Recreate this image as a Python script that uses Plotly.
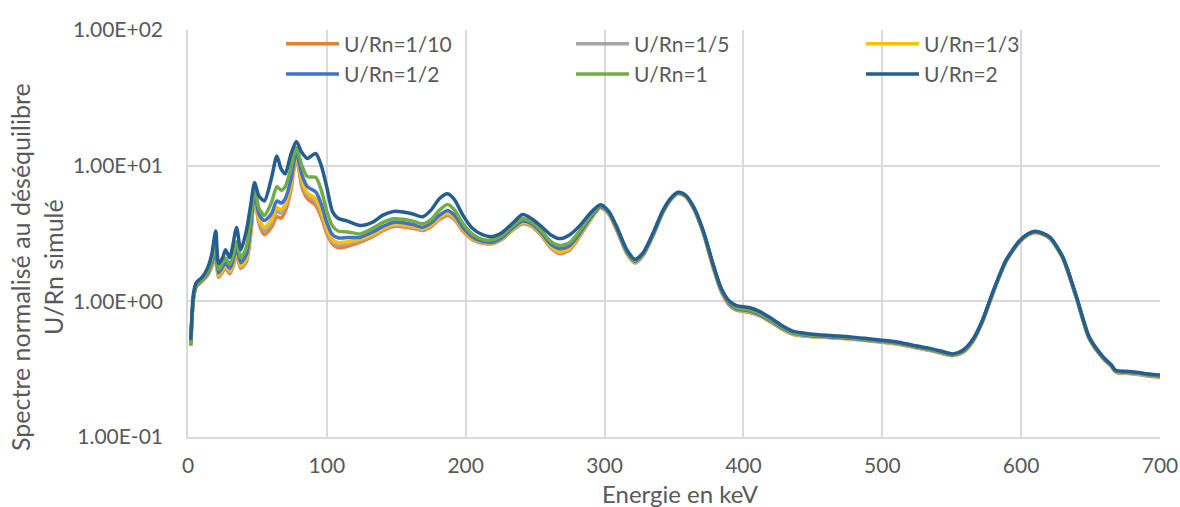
import plotly.graph_objects as go

# Energy grid (keV)
energy = [2, 4, 6, 10, 14, 17, 20, 22, 25, 27, 30, 32, 35, 38, 42, 45, 48, 51, 55, 60,
          64, 67, 70, 74, 78, 82, 86, 92, 96, 100, 104, 108, 115, 124, 133, 140, 148, 155, 162, 169,
          175, 181, 187, 192, 198, 205, 212, 219, 226, 233, 241, 247, 254, 261, 268, 275, 282, 290, 297, 303,
          309, 316, 322, 328, 335, 342, 348, 353, 358, 364, 371, 378, 384, 390, 395, 404, 412, 420, 428, 436,
          448, 462, 477, 490, 500, 512, 522, 534, 546, 551, 558, 565, 572, 580, 589, 599, 605, 610, 615, 621,
          630, 640, 649, 659, 665, 668, 675, 683, 690, 700]

s_1_10 = [0.48, 1.05, 1.28, 1.40, 1.55, 1.80, 2.05, 1.50, 1.65, 1.75, 1.60, 1.75, 2.2, 1.75, 1.95, 3.0, 6.0, 3.8, 3.1, 3.5,
          4.2, 4.1, 4.6, 6.5, 11.5, 7.0, 5.7, 5.1, 4.17, 3.16, 2.65, 2.48, 2.55, 2.73, 3.0, 3.3, 3.56, 3.55, 3.45, 3.33,
          3.55, 4.0, 4.3, 4.0, 3.3, 2.85, 2.68, 2.66, 2.85, 3.3, 3.73, 3.6, 3.1, 2.5, 2.24, 2.4, 3.0, 4.0, 4.9, 4.4,
          3.3, 2.25, 1.92, 2.2, 3.05, 4.5, 5.65, 6.2, 5.95, 4.85, 3.2, 1.8, 1.18, 0.93, 0.86, 0.83, 0.78, 0.70, 0.62, 0.57,
          0.55, 0.54, 0.528, 0.512, 0.50, 0.483, 0.46, 0.435, 0.405, 0.398, 0.42, 0.50, 0.70, 1.17, 1.95, 2.75, 3.08, 3.22, 3.13, 2.88,
          2.07, 1.04, 0.53, 0.378, 0.33, 0.30, 0.295, 0.29, 0.283, 0.275]

s_1_5 = [0.48, 1.06, 1.29, 1.41, 1.56, 1.82, 2.10, 1.52, 1.68, 1.78, 1.63, 1.78, 2.25, 1.78, 2.0, 3.1, 6.1, 3.95, 3.3, 3.75,
         4.6, 4.45, 4.95, 6.9, 11.8, 7.4, 6.0, 5.4, 4.4, 3.3, 2.75, 2.58, 2.65, 2.8, 3.06, 3.36, 3.62, 3.61, 3.5, 3.38,
         3.6, 4.07, 4.38, 4.07, 3.35, 2.88, 2.7, 2.68, 2.87, 3.33, 3.77, 3.63, 3.13, 2.53, 2.27, 2.43, 3.03, 4.04, 4.93, 4.43,
         3.33, 2.27, 1.93, 2.21, 3.07, 4.53, 5.68, 6.23, 5.98, 4.88, 3.22, 1.82, 1.19, 0.94, 0.87, 0.835, 0.785, 0.705, 0.625, 0.573,
         0.552, 0.542, 0.53, 0.514, 0.502, 0.485, 0.462, 0.437, 0.407, 0.40, 0.422, 0.503, 0.703, 1.175, 1.96, 2.76, 3.09, 3.23, 3.14, 2.89,
         2.08, 1.045, 0.533, 0.38, 0.332, 0.302, 0.297, 0.292, 0.285, 0.277]

s_1_3 = [0.49, 1.07, 1.30, 1.42, 1.58, 1.85, 2.15, 1.55, 1.72, 1.82, 1.67, 1.82, 2.32, 1.83, 2.06, 3.2, 6.2, 4.1, 3.5, 3.95,
         4.9, 4.75, 5.2, 7.2, 12.0, 7.8, 6.3, 5.7, 4.65, 3.45, 2.87, 2.7, 2.75, 2.86, 3.12, 3.42, 3.68, 3.67, 3.56, 3.43,
         3.66, 4.15, 4.48, 4.15, 3.4, 2.92, 2.73, 2.7, 2.9, 3.36, 3.82, 3.67, 3.17, 2.57, 2.31, 2.47, 3.07, 4.08, 4.96, 4.46,
         3.36, 2.3, 1.95, 2.23, 3.1, 4.56, 5.71, 6.26, 6.0, 4.9, 3.25, 1.84, 1.2, 0.95, 0.875, 0.84, 0.79, 0.71, 0.63, 0.576,
         0.555, 0.544, 0.532, 0.516, 0.504, 0.487, 0.464, 0.439, 0.409, 0.402, 0.424, 0.506, 0.706, 1.18, 1.97, 2.77, 3.1, 3.24, 3.15, 2.9,
         2.09, 1.05, 0.536, 0.382, 0.334, 0.304, 0.299, 0.294, 0.287, 0.279]

s_1_2 = [0.49, 1.08, 1.31, 1.43, 1.60, 1.90, 2.25, 1.62, 1.80, 1.92, 1.75, 1.92, 2.45, 1.93, 2.2, 3.4, 6.4, 4.4, 3.94, 4.4,
         5.5, 5.3, 5.7, 7.8, 12.5, 8.6, 7.0, 6.4, 5.2, 3.8, 3.1, 2.94, 2.95, 2.97, 3.25, 3.55, 3.83, 3.8, 3.68, 3.52,
         3.77, 4.3, 4.67, 4.3, 3.5, 2.98, 2.77, 2.73, 2.94, 3.42, 3.9, 3.75, 3.24, 2.65, 2.44, 2.58, 3.15, 4.15, 5.0, 4.5,
         3.4, 2.33, 1.97, 2.25, 3.13, 4.6, 5.74, 6.3, 6.03, 4.93, 3.28, 1.86, 1.21, 0.96, 0.88, 0.85, 0.795, 0.715, 0.635, 0.58,
         0.558, 0.547, 0.535, 0.518, 0.506, 0.489, 0.466, 0.441, 0.411, 0.403, 0.426, 0.509, 0.709, 1.185, 1.98, 2.78, 3.12, 3.26, 3.17, 2.92,
         2.1, 1.055, 0.539, 0.384, 0.336, 0.306, 0.301, 0.296, 0.289, 0.281]

s_1 = [0.47, 1.10, 1.33, 1.45, 1.65, 2.0, 2.5, 1.72, 1.92, 2.08, 1.88, 2.08, 2.75, 2.1, 2.5, 4.0, 6.9, 4.9, 4.3, 5.3,
       7.0, 6.6, 7.0, 9.5, 13.6, 10.0, 8.3, 8.2, 6.6, 4.6, 3.6, 3.3, 3.25, 3.14, 3.45, 3.8, 4.06, 4.02, 3.9, 3.73,
       4.0, 4.7, 5.17, 4.7, 3.75, 3.12, 2.86, 2.84, 3.05, 3.55, 4.06, 3.88, 3.35, 2.78, 2.58, 2.72, 3.3, 4.3, 5.08, 4.55,
       3.45, 2.37, 2.0, 2.27, 3.16, 4.63, 5.77, 6.33, 6.06, 4.96, 3.3, 1.88, 1.23, 0.98, 0.9, 0.865, 0.81, 0.725, 0.645, 0.587,
       0.565, 0.552, 0.54, 0.523, 0.51, 0.493, 0.469, 0.444, 0.414, 0.405, 0.43, 0.513, 0.713, 1.19, 1.99, 2.79, 3.13, 3.27, 3.18, 2.93,
       2.11, 1.06, 0.542, 0.386, 0.338, 0.308, 0.303, 0.298, 0.291, 0.283]

s_2 = [0.52, 1.15, 1.38, 1.50, 1.75, 2.2, 3.3, 1.9, 2.1, 2.4, 2.1, 2.5, 3.5, 2.4, 3.3, 5.0, 7.5, 6.0, 5.5, 8.0,
       11.8, 9.5, 8.7, 12.0, 15.1, 12.5, 11.3, 12.3, 10.0, 6.9, 4.6, 4.1, 3.9, 3.62, 3.83, 4.3, 4.6, 4.55, 4.4, 4.2,
       4.7, 5.7, 6.2, 5.6, 4.3, 3.44, 3.1, 3.0, 3.2, 3.7, 4.36, 4.1, 3.6, 3.1, 2.9, 3.1, 3.6, 4.5, 5.15, 4.6,
       3.5, 2.4, 2.04, 2.3, 3.2, 4.67, 5.8, 6.37, 6.1, 5.0, 3.33, 1.9, 1.25, 1.0, 0.93, 0.9, 0.84, 0.75, 0.66, 0.60,
       0.575, 0.56, 0.547, 0.53, 0.517, 0.50, 0.475, 0.45, 0.42, 0.41, 0.436, 0.52, 0.72, 1.2, 2.0, 2.81, 3.15, 3.29, 3.2, 2.95,
       2.12, 1.07, 0.547, 0.39, 0.34, 0.31, 0.305, 0.30, 0.293, 0.286]

series_names = ["U/Rn=1/10", "U/Rn=1/5", "U/Rn=1/3", "U/Rn=1/2", "U/Rn=1", "U/Rn=2"]
series_values = [s_1_10, s_1_5, s_1_3, s_1_2, s_1, s_2]
series_colors = ["#ED7D31", "#A5A5A5", "#FFC000", "#4472C4", "#70AD47", "#255E91"]

y_tickvals = [0.1, 1, 10, 100]
y_ticktext = ["1.00E-01", "1.00E+00", "1.00E+01", "1.00E+02"]
x_tickvals = [0, 100, 200, 300, 400, 500, 600, 700]

for v in series_values:
    assert len(v) == len(energy)

FONT = "Lato"
GREY = "#595959"

fig = go.Figure()
for name, vals, col in zip(series_names, series_values, series_colors):
    fig.add_trace(go.Scatter(x=energy, y=vals, mode="lines", name=name,
                             line=dict(color=col, width=3.5, shape="spline", smoothing=0.7)))

W, H = 1180, 507
ml, mr, mt, mb = 188, 20, 30, 70
pw = W - ml - mr
ph = H - mt - mb

fig.update_layout(
    width=W, height=H,
    margin=dict(l=ml, r=mr, t=mt, b=mb, autoexpand=False),
    paper_bgcolor="white", plot_bgcolor="white",
    font=dict(family=FONT, size=21, color=GREY),
    showlegend=True,
    legend=dict(orientation="h", x=(281 - ml) / pw, xanchor="left", y=1.016, yanchor="top",
                entrywidth=222, entrywidthmode="pixels", bgcolor="rgba(0,0,0,0)",
                font=dict(family=FONT, size=21, color=GREY), itemwidth=53,
                tracegroupgap=0, traceorder="normal"),
    xaxis=dict(range=[0, 700], tickvals=x_tickvals, showgrid=True, gridcolor="#D9D9D9", gridwidth=1.5,
               zeroline=False, showline=True, linecolor="#D9D9D9", linewidth=1.5,
               ticks="outside", ticklen=9, tickcolor="rgba(0,0,0,0)", automargin=False,
               tickfont=dict(family=FONT, size=21, color=GREY)),
    yaxis=dict(type="log", range=[-1, 2], tickvals=y_tickvals, ticktext=y_ticktext,
               showgrid=True, gridcolor="#D9D9D9", gridwidth=1.5, zeroline=False,
               showline=True, linecolor="#D9D9D9", linewidth=1.5,
               ticks="outside", ticklen=19, tickcolor="rgba(0,0,0,0)", automargin=False,
               tickfont=dict(family=FONT, size=21, color=GREY)),
    annotations=[
        dict(text="Energie en keV", xref="paper", yref="paper", x=(680 - ml) / pw, y=-(493 - 437) / ph,
             xanchor="center", yanchor="middle", showarrow=False,
             font=dict(family=FONT, size=24, color=GREY)),
        dict(text="Spectre normalisé au déséquilibre<br>U/Rn simulé", xref="paper", yref="paper",
             x=-(188 - 36) / pw, y=(437 - 267) / ph, xanchor="center", yanchor="middle",
             textangle=-90, showarrow=False, font=dict(family=FONT, size=25, color=GREY)),
    ],
)

fig.write_html("out.html", config={"displayModeBar": False},
               post_script="document.body.style.margin='0';document.body.style.overflow='hidden';")
